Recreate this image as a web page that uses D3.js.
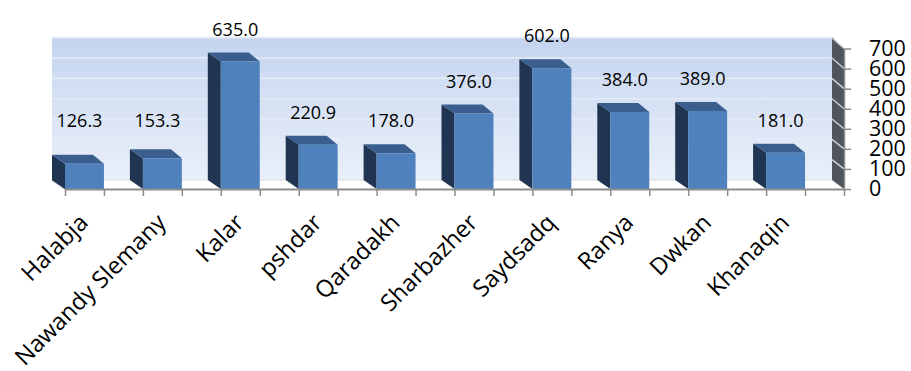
<!DOCTYPE html>
<html>
<head>
<meta charset="utf-8">
<script src="https://cdn.jsdelivr.net/npm/d3@7"></script>
<style>
  html, body { margin: 0; padding: 0; background: #ffffff; }
  svg { display: block; font-family: "Open Sans", "DejaVu Sans", sans-serif; }
</style>
</head>
<body>
<svg id="chart" width="911" height="371"></svg>
<script>
const categories = ["Halabja", "Nawandy Slemany", "Kalar", "pshdar", "Qaradakh",
                    "Sharbazher", "Saydsadq", "Ranya", "Dwkan", "Khanaqin"];
const values = [126.3, 153.3, 635.0, 220.9, 178.0, 376.0, 602.0, 384.0, 389.0, 181.0];
const yTicks = [0, 100, 200, 300, 400, 500, 600, 700];

const svg = d3.select("#chart");

// layout
const frontLeft = 65, frontRight = 844, frontBase = 189, frontTop = 48.5;
const backBase = 180, backTop = 37.7;
const dx = -13, dy = -9;

const x = d3.scaleBand().domain(categories).range([frontLeft, frontRight]).padding(0);
const bw = x.bandwidth();
const yFront = d3.scaleLinear().domain([0, 700]).range([frontBase, frontTop]);
const yBack = d3.scaleLinear().domain([0, 700]).range([backBase, backTop]);

// gradient
const defs = svg.append("defs");
const grad = defs.append("linearGradient").attr("id", "wallGrad")
  .attr("x1", 0).attr("y1", 0).attr("x2", 0).attr("y2", 1);
grad.append("stop").attr("offset", "0%").attr("stop-color", "#c4d4ef");
grad.append("stop").attr("offset", "100%").attr("stop-color", "#eaf0fa");

// back wall
const wallL = frontLeft + dx, wallR = frontRight - 12;
svg.append("rect")
  .attr("x", wallL).attr("y", yBack(700) - 0.8)
  .attr("width", wallR - wallL).attr("height", backBase - yBack(700) + 0.8)
  .attr("fill", "url(#wallGrad)");

// gridlines on back wall
svg.append("g").selectAll("line").data(yTicks.filter(d => d > 0)).join("line")
  .attr("x1", wallL).attr("x2", wallR)
  .attr("y1", d => yBack(d)).attr("y2", d => yBack(d))
  .attr("stroke", "#e4ebf6").attr("stroke-width", 1.6);

// floor
svg.append("path")
  .attr("d", `M${wallL},${backBase}L${wallR},${backBase}L${frontRight},${frontBase}L${frontLeft},${frontBase}Z`)
  .attr("fill", "#ffffff");
svg.append("line").attr("x1", wallL).attr("x2", wallR).attr("y1", backBase).attr("y2", backBase)
  .attr("stroke", "#d9d9d9").attr("stroke-width", 1);
svg.append("line").attr("x1", wallL).attr("y1", backBase).attr("x2", frontLeft).attr("y2", frontBase)
  .attr("stroke", "#a6a6a6").attr("stroke-width", 1.5);

// right side wall
svg.append("path")
  .attr("d", `M${wallR},${yBack(700) - 0.8}L${frontRight},${yFront(700)}L${frontRight},${frontBase}L${wallR},${backBase}Z`)
  .attr("fill", "#50555d");
svg.append("g").selectAll("line").data(yTicks.filter(d => d > 0)).join("line")
  .attr("x1", wallR).attr("y1", d => yBack(d))
  .attr("x2", frontRight).attr("y2", d => yFront(d))
  .attr("stroke", "#c9d1dd").attr("stroke-width", 1.4);

// bars
const bars = svg.append("g").selectAll("g").data(categories).join("g");
bars.each(function(c, i) {
  const g = d3.select(this);
  const v = values[i];
  const x0 = x(c), x1 = x(c) + bw / 2;
  const yt = yFront(v), yb = yFront(0);
  // side face
  g.append("path")
    .attr("d", `M${x0},${yt}L${x0 + dx},${yt + dy}L${x0 + dx},${yb + dy}L${x0},${yb}Z`)
    .attr("fill", "#1f3552");
  // top face
  g.append("path")
    .attr("d", `M${x0},${yt}L${x1},${yt}L${x1 + dx + 2},${yt + dy}L${x0 + dx},${yt + dy}Z`)
    .attr("fill", "#3a5f8e");
  // front face
  g.append("rect")
    .attr("x", x0).attr("y", yt).attr("width", x1 - x0).attr("height", yb - yt)
    .attr("fill", "#4f81bd");
});

// x axis (ticks at every half band)
const tickPos = d3.range(categories.length * 2 + 1).map(k => frontLeft + k * bw / 2);
const xt = d3.scaleLinear().domain([frontLeft, frontRight]).range([frontLeft, frontRight]);
const xAxis = svg.append("g").attr("transform", `translate(0,${frontBase})`)
  .call(d3.axisBottom(xt).tickValues(tickPos).tickFormat("").tickSize(7).tickSizeOuter(0));
xAxis.select(".domain").attr("stroke", "#8c8c8c").attr("stroke-width", 2);
xAxis.selectAll(".tick line").attr("stroke", "#8c8c8c").attr("stroke-width", 1.5);

// category labels
svg.append("g").selectAll("text").data(categories).join("text")
  .attr("transform", c => `translate(${x(c) + bw / 4 + 5},${224}) rotate(-45)`)
  .attr("text-anchor", "end")
  .attr("font-size", "23.5px")
  .attr("fill", "#000")
  .text(c => c);

// y axis on the right
const yAxis = svg.append("g").attr("transform", `translate(${frontRight},0)`)
  .call(d3.axisRight(yFront).tickValues(yTicks).tickSize(7).tickPadding(18).tickSizeOuter(0));
yAxis.select(".domain").attr("stroke", "#8c8c8c").attr("stroke-width", 1.5);
yAxis.selectAll(".tick line").attr("stroke", "#8c8c8c").attr("stroke-width", 1.5);
yAxis.selectAll(".tick text")
  .attr("font-family", "'Open Sans', sans-serif")
  .attr("font-size", "21.5px").attr("fill", "#000");

// data labels
const fmt = d3.format(".1f");
svg.append("g").selectAll("text").data(categories).join("text")
  .attr("x", c => x(c) + bw / 4 - 5)
  .attr("y", (c, i) => Math.min(yFront(values[i]) - 26, 127))
  .attr("text-anchor", "middle")
  .attr("font-size", "18px")
  .attr("fill", "#000")
  .text((c, i) => fmt(values[i]));
</script>
</body>
</html>
